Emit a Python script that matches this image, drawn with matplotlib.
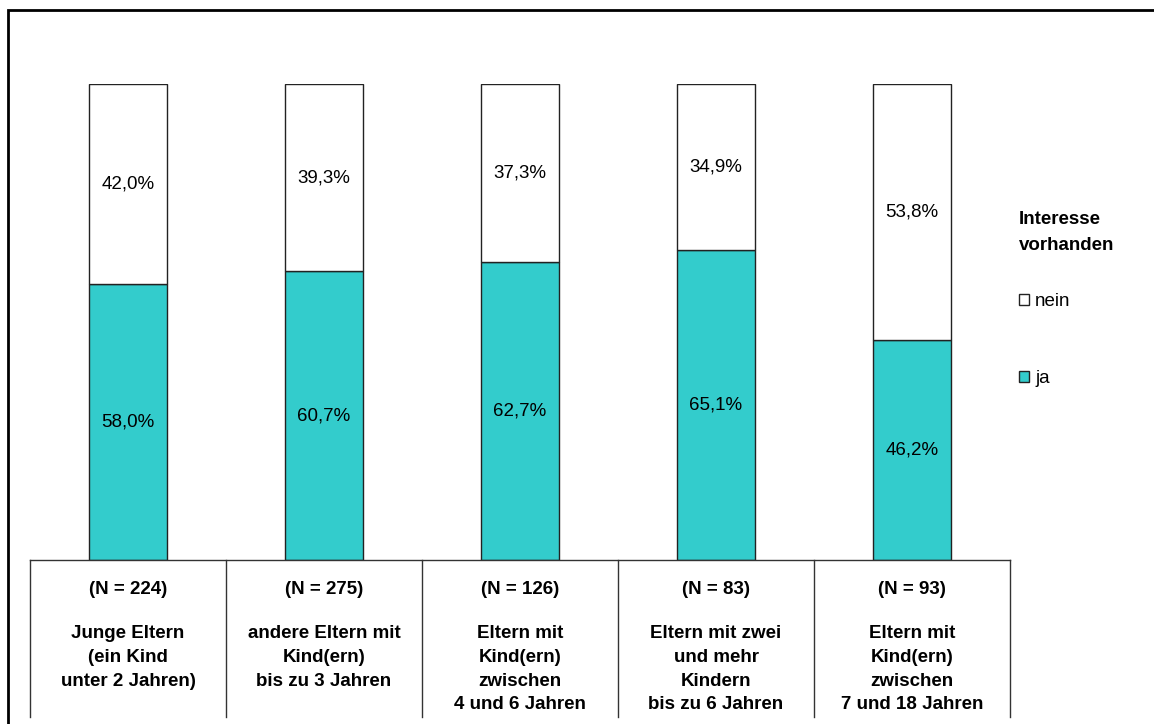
#!/usr/bin/env python3
"""Interest by parent group, stacked 100% bars with a label table below"""

import matplotlib
matplotlib.use('Agg')
import matplotlib.pyplot as plt
from matplotlib.patches import Patch, Rectangle

plt.rcParams['font.family'] = ['Liberation Sans', 'DejaVu Sans']

# --------------------------------------------------
groups = ['Junge Eltern\n(ein Kind\nunter 2 Jahren)',
          'andere Eltern mit\nKind(ern)\nbis zu 3 Jahren',
          'Eltern mit\nKind(ern)\nzwischen\n4 und 6 Jahren',
          'Eltern mit zwei\nund mehr\nKindern\nbis zu 6 Jahren',
          'Eltern mit\nKind(ern)\nzwischen\n7 und 18 Jahren']
n_sizes = [224, 275, 126, 83, 93]
ja = [58.0, 60.7, 62.7, 65.1, 46.2]
nein = [42.0, 39.3, 37.3, 34.9, 53.8]

teal = '#33CCCC'
W, H = 1154, 724
FS = 13.5

fig = plt.figure(figsize=(W / 100, H / 100), dpi=100)

# outer frame
fig.patches.append(Rectangle((8 / W, -0.1), 1.2, (H - 10) / H + 0.1,
                             transform=fig.transFigure, fill=False,
                             edgecolor='black', linewidth=2))

ax = fig.add_axes([30 / W, (H - 560) / H, 980 / W, 476 / H])
x = list(range(len(ja)))
ax.bar(x, ja, width=0.4, color=teal, edgecolor='#222222', linewidth=1)
ax.bar(x, nein, width=0.4, bottom=ja, color='white',
       edgecolor='#222222', linewidth=1)

for i in x:
    ax.text(i, ja[i] / 2, '{:.1f}%'.format(ja[i]).replace('.', ','),
            ha='center', va='center', fontsize=FS)
    ax.text(i, ja[i] + nein[i] / 2, '{:.1f}%'.format(nein[i]).replace('.', ','),
            ha='center', va='center', fontsize=FS)

ax.set_xlim(-0.5, len(ja) - 0.5)
ax.set_ylim(0, 100)
ax.axis('off')

# table below the bars
tab = fig.add_axes([30 / W, 7 / H, 980 / W, 157 / H])
tab.set_xlim(-0.5, len(ja) - 0.5)
tab.set_ylim(0, 157)
tab.axis('off')
tab.axhline(157, color='#333333', linewidth=1, clip_on=False)
for k in range(len(ja) + 1):
    tab.axvline(k - 0.5, color='#333333', linewidth=1, clip_on=False)
for i in x:
    tab.text(i, 128, '(N = {})'.format(n_sizes[i]), ha='center', va='center',
             fontsize=FS, fontweight='bold')
    tab.text(i, 92, groups[i], ha='center', va='top', fontsize=FS,
             fontweight='bold', linespacing=1.52)

handles = [Patch(facecolor='white', edgecolor='#222222', label='nein'),
           Patch(facecolor=teal, edgecolor='#222222', label='ja')]
leg = fig.legend(handles=handles, title='Interesse\nvorhanden',
                 loc='upper left', bbox_to_anchor=(1006 / W, (H - 198) / H),
                 frameon=False, fontsize=FS, labelspacing=3.2,
                 handlelength=0.55, handleheight=0.55, handletextpad=0.3,
                 alignment='left', borderpad=0.2)
leg.get_title().set_fontweight('bold')
leg.get_title().set_fontsize(FS)
leg.get_title().set_linespacing(1.7)
leg._legend_box.sep = 28

fig.savefig('out.png', dpi=100)
